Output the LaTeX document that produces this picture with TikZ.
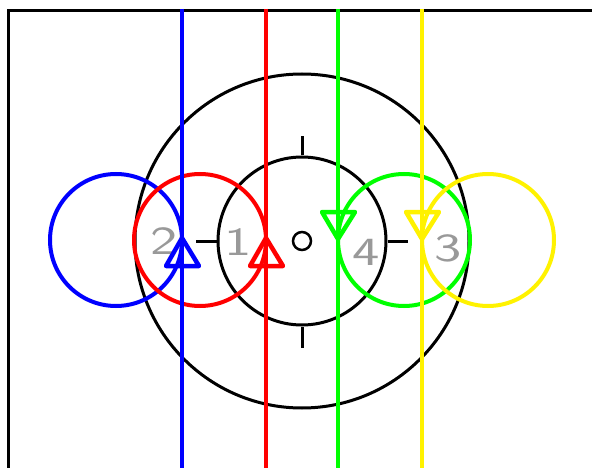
\documentclass[tikz,border=0pt]{standalone}
\begin{document}
\begin{tikzpicture}[x=1pt,y=-1pt,
  blk/.style={draw=black,line width=3pt},
  ring/.style={circle,line width=4pt,inner sep=0pt,minimum size=132pt},
  wire/.style={line width=4.5pt},
  tri/.style={line width=4.5pt,line join=round},
  num/.style={font=\sffamily\fontsize{40}{40}\selectfont,text=gray!80,inner sep=0pt,xscale=1.45}]
\useasboundingbox (0,0) rectangle (592,468);
% frame
\coordinate (ftl) at (8,11);
\coordinate (ftr) at (592,11);
\coordinate (fbl) at (8,468);
\draw[line width=3pt] (ftr) -- (ftl) -- (fbl);
% black circles
\node[circle,blk,inner sep=0pt,minimum size=334pt] (outer) at (302,241) {};
\node[circle,blk,inner sep=0pt,minimum size=168pt] (inner) at (302,241) {};
\node[circle,draw,line width=2.5pt,inner sep=0pt,minimum size=18pt] (hub) at (302,241) {};
% ticks
\coordinate (tt) at (302,136);
\coordinate (tb) at (302,348);
\coordinate (tl) at (196,241);
\coordinate (tr) at (408,241);
\draw[line width=3pt] (inner.north) -- (tt);
\draw[line width=3pt] (inner.south) -- (tb);
\draw[line width=3pt] (inner.west) -- (tl);
\draw[line width=3pt] (inner.east) -- (tr);
% labels
\node[num] (n2) at (164,241) {2};
\node[num] (n1) at (238,242) {1};
\node[num] (n4) at (366,252) {4};
\node[num] (n3) at (448,248) {3};
% coloured circles
\node[ring,draw=blue] (cb) at (116,240) {};
\node[ring,draw=red] (cr) at (200,240) {};
\node[ring,draw=green] (cg) at (404,240) {};
\node[ring,draw=yellow] (cy) at (488,240) {};
% vertical wires
\foreach \n/\x/\c in {b/182/blue,r/266/red,g/338/green,y/422/yellow}{
  \coordinate (\n top) at (\x,9);
  \coordinate (\n bot) at (\x,468);
  \draw[wire,draw=\c] (\n top) -- (\n bot);
}
% triangles
\coordinate (bA) at (182,238); \coordinate (bL) at (166,266); \coordinate (bR) at (199,266);
\draw[tri,blue] (bA) -- (bL) -- (bR) -- cycle;
\coordinate (rA) at (266,238); \coordinate (rL) at (250,266); \coordinate (rR) at (283,266);
\draw[tri,red] (rA) -- (rL) -- (rR) -- cycle;
\coordinate (gA) at (338,239); \coordinate (gL) at (322,212); \coordinate (gR) at (355,212);
\draw[tri,green] (gA) -- (gL) -- (gR) -- cycle;
\coordinate (yA) at (422,239); \coordinate (yL) at (406,212); \coordinate (yR) at (439,212);
\draw[tri,yellow] (yA) -- (yL) -- (yR) -- cycle;
\end{tikzpicture}
\end{document}
